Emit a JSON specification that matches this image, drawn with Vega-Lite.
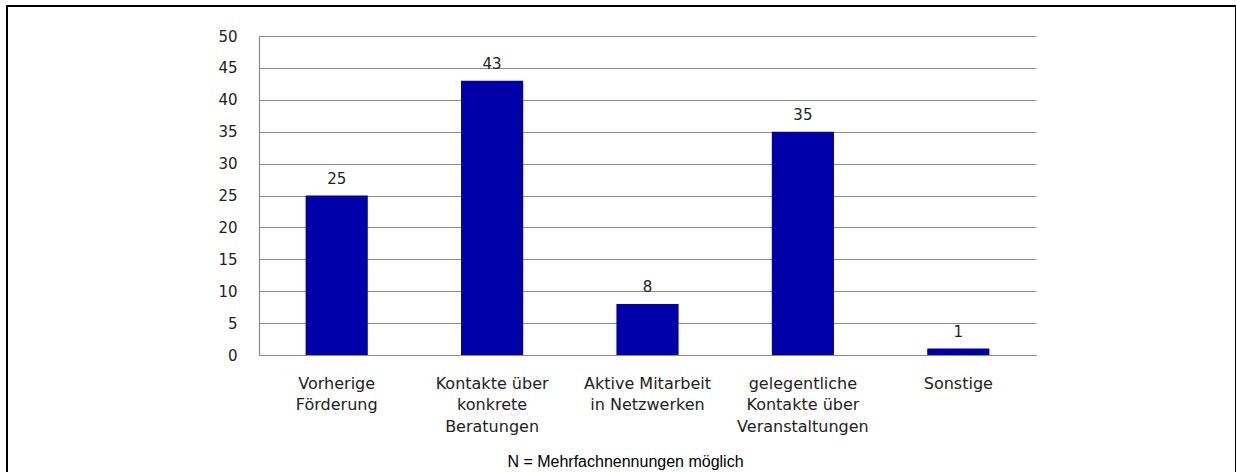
{
  "$schema": "https://vega.github.io/schema/vega-lite/v6.json",
  "autosize": {"type": "none"},
  "padding": {"left": 7, "top": 6, "right": 0, "bottom": 0},
  "width": 1229,
  "height": 474,
  "background": "white",
  "config": {
    "view": {"stroke": "black", "strokeWidth": 2, "fill": null},
    "font": "DejaVu Sans"
  },
  "title": {
    "text": "N = Mehrfachnennungen möglich",
    "orient": "bottom",
    "anchor": "middle",
    "frame": "group",
    "font": "Liberation Sans",
    "fontSize": 16,
    "fontWeight": "normal",
    "color": "#000000",
    "baseline": "alphabetic",
    "offset": -13,
    "dx": 4
  },
  "data": {
    "values": [
      {"kategorie": "Vorherige|Förderung", "anzahl": 25},
      {"kategorie": "Kontakte über|konkrete|Beratungen", "anzahl": 43},
      {"kategorie": "Aktive Mitarbeit|in Netzwerken", "anzahl": 8},
      {"kategorie": "gelegentliche|Kontakte über|Veranstaltungen", "anzahl": 35},
      {"kategorie": "Sonstige", "anzahl": 1}
    ]
  },
  "encoding": {
    "x": {
      "field": "kategorie",
      "type": "nominal",
      "sort": null,
      "scale": {"range": [252, 1029], "paddingInner": 0.6, "paddingOuter": 0.3},
      "axis": {
        "orient": "bottom",
        "offset": -125,
        "title": null,
        "domain": true,
        "domainColor": "#8a8a8a",
        "domainWidth": 1.2,
        "ticks": false,
        "grid": false,
        "labelAngle": 0,
        "labelPadding": 20,
        "labelFontSize": 16,
        "labelColor": "#222222",
        "labelLineHeight": 21.7,
        "labelBaseline": "top",
        "labelLimit": 0,
        "labelExpr": "split(datum.label, '|')"
      }
    },
    "y": {
      "field": "anzahl",
      "type": "quantitative",
      "scale": {"domain": [0, 50], "range": [349, 30], "nice": false},
      "axis": {
        "orient": "left",
        "offset": -252,
        "title": null,
        "values": [0, 5, 10, 15, 20, 25, 30, 35, 40, 45, 50],
        "domain": true,
        "domainColor": "#8a8a8a",
        "domainWidth": 1.2,
        "ticks": false,
        "grid": true,
        "gridColor": "#8a8a8a",
        "gridWidth": 1.2,
        "labelPadding": 22,
        "labelFontSize": 15,
        "labelColor": "#222222"
      }
    }
  },
  "layer": [
    {"mark": {"type": "bar", "color": "#0000a8"}},
    {
      "mark": {"type": "text", "baseline": "alphabetic", "dy": -12, "fontSize": 15, "color": "#222222"},
      "encoding": {"text": {"field": "anzahl", "type": "quantitative"}}
    }
  ]
}
